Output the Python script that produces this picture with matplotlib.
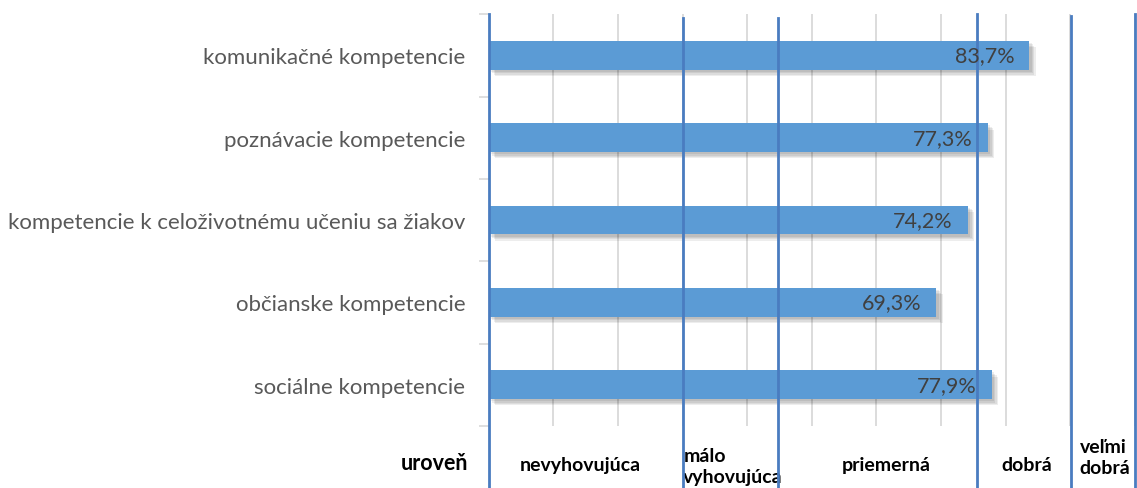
import matplotlib
matplotlib.use("Agg")
import matplotlib.pyplot as plt
import matplotlib.patheffects as pe
from matplotlib.transforms import blended_transform_factory

plt.rcParams['font.family'] = ['Lato', 'DejaVu Sans']

categories = ["komunikačné kompetencie", "poznávacie kompetencie",
              "kompetencie k celoživotnému učeniu sa žiakov",
              "občianske kompetencie", "sociálne kompetencie"]
values = [83.7, 77.3, 74.2, 69.3, 77.9]
value_labels = ["83,7%", "77,3%", "74,2%", "69,3%", "77,9%"]

level_bounds = [30, 44.7, 75.6, 90.2, 100]
level_tops = [0.99, 0.99, 1.0, 0.995, 1.0]
level_names = ["nevyhovujúca", "málo\nvyhovujúca", "priemerná", "dobrá", "veľmi\ndobrá"]
level_x = [14.2, 30.1, 61.6, 83.3, 91.5]
level_ha = ["center", "left", "center", "center", "left"]
level_y = [-0.093, -0.097, -0.093, -0.093, -0.075]
axis_title = "uroveň"

bar_color = "#5B9BD5"
line_color = "#4A7CC0"

fig = plt.figure(figsize=(11.37, 4.89), dpi=100)
ax = fig.add_axes([0.430, 0.127, 0.568, 0.842])

n = len(categories)
ypos = list(range(n))
bars = ax.barh(ypos, values, height=0.35, color=bar_color, zorder=3)
shadow = [pe.SimplePatchShadow(offset=(k, -k), shadow_rgbFace="#000000", alpha=0.07) for k in (4.5, 3.5, 2.5, 1.5)]
for b in bars:
    b.set_path_effects(shadow + [pe.Normal()])

ax.set_ylim(n - 0.5, -0.5)
ax.set_xlim(0, 100)
ax.set_xticks(range(0, 101, 10))
ax.xaxis.grid(True, color="#D9D9D9", linewidth=1.3, zorder=0)
ax.tick_params(axis='x', length=0, labelbottom=False)

ax.set_yticks([i - 0.5 for i in range(n + 1)])
ax.set_yticklabels([])
ax.set_yticks(ypos, minor=True)
ax.set_yticklabels(categories, minor=True, fontsize=16, color="#595959")
ax.tick_params(axis='y', which='major', length=7, color="#D9D9D9", width=1.2)
ax.tick_params(axis='y', which='minor', length=0, pad=17)

for s in ["top", "right", "bottom", "left"]:
    ax.spines[s].set_visible(False)

for y, v, t in zip(ypos, values, value_labels):
    ax.annotate(t, xy=(v, y), xytext=(-11, 0), textcoords="offset points",
                ha="right", va="center", fontsize=15.5, color="#404040", zorder=5)

ax.axvline(0, ymin=-0.152, ymax=1.0, color=line_color, linewidth=2, clip_on=False, zorder=4)
for b, top in zip(level_bounds, level_tops):
    ax.axvline(b, ymin=-0.152, ymax=top, color=line_color, linewidth=2, clip_on=False, zorder=4)

trans = blended_transform_factory(ax.transData, ax.transAxes)
for name, x, ha, y in zip(level_names, level_x, level_ha, level_y):
    ax.text(x, y, name, transform=trans, ha=ha, va="center", fontsize=14,
            fontweight="bold", color="#000000", linespacing=1.3)
ax.text(-3.2, -0.09, axis_title, transform=trans, ha="right", va="center",
        fontsize=15.5, fontweight="bold", color="#000000")

fig.savefig("out.png", dpi=100)
